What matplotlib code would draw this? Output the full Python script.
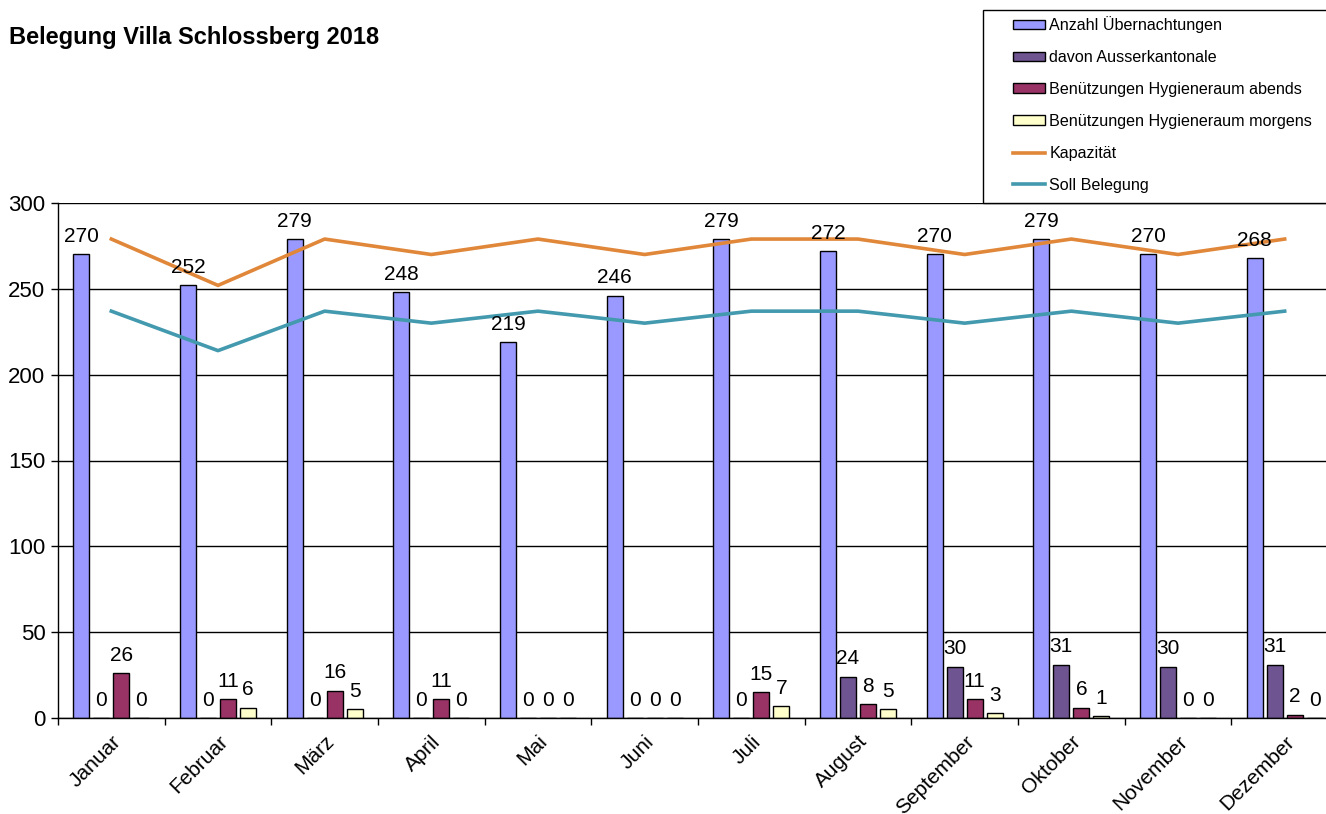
import numpy as np
import matplotlib
matplotlib.use("Agg")
from matplotlib import pyplot as plt
from matplotlib.patches import Rectangle

plt.rcParams['font.family'] = ['Liberation Sans', 'DejaVu Sans']

# Data
months = ["Januar", "Februar", "März", "April", "Mai", "Juni",
          "Juli", "August", "September", "Oktober", "November", "Dezember"]
uebernachtungen = [270, 252, 279, 248, 219, 246, 279, 272, 270, 279, 270, 268]
ausserkantonale = [0, 0, 0, 0, 0, 0, 0, 24, 30, 31, 30, 31]
hyg_abends = [26, 11, 16, 11, 0, 0, 15, 8, 11, 6, 0, 2]
hyg_morgens = [0, 6, 5, 0, 0, 0, 7, 5, 3, 1, 0, 0]
kapazitaet = [279, 252, 279, 270, 279, 270, 279, 279, 270, 279, 270, 279]
soll_belegung = [237, 214, 237, 230, 237, 230, 237, 237, 230, 237, 230, 237]

bar_series = [
    ("Anzahl Übernachtungen", uebernachtungen, "#9999FF"),
    ("davon Ausserkantonale", ausserkantonale, "#6E5490"),
    ("Benützungen Hygieneraum abends", hyg_abends, "#993366"),
    ("Benützungen Hygieneraum morgens", hyg_morgens, "#FFFFCC"),
]

W, H = 1326, 814
fig = plt.figure(figsize=(W / 100, H / 100), dpi=100)
# axes extends past the right edge, like the cropped original
ax = fig.add_axes([58 / W, (H - 718) / H, 1280 / W, (718 - 203) / H])

x = np.arange(len(months))
step = 0.1875
width = 0.15
handles = []
for i, (name, vals, col) in enumerate(bar_series):
    pos = x + (i - 1.5) * step
    bars = ax.bar(pos, vals, width, color=col, edgecolor="black",
                  linewidth=1.0, label=name, zorder=2)
    handles.append(bars)
    for xp, v in zip(pos, vals):
        ax.annotate(str(v), (xp, v), xytext=(0, 6), textcoords="offset points",
                    ha="center", va="bottom", fontsize=15, zorder=4)

l1, = ax.plot(x, kapazitaet, color="#E0873A", lw=2.6, label="Kapazität", zorder=3)
l2, = ax.plot(x, soll_belegung, color="#4399AE", lw=2.6, label="Soll Belegung", zorder=3)
handles += [l1, l2]

ax.set_xlim(-0.5, len(months) - 0.5)
ax.set_ylim(0, 300)
ax.set_yticks(range(0, 301, 50))
ax.yaxis.grid(True, color="black", lw=1.0)
ax.set_axisbelow(True)
ax.tick_params(axis="y", labelsize=16, length=5, direction="out", width=1, pad=4)

ax.set_xticks(x)
ax.set_xticklabels(months, rotation=45, ha="right", rotation_mode="anchor", fontsize=15)
ax.tick_params(axis="x", which="major", length=0, pad=10)
ax.set_xticks(np.arange(-0.5, len(months), 1), minor=True)
ax.tick_params(axis="x", which="minor", length=5, width=1, direction="out")

for s in ["top", "right"]:
    ax.spines[s].set_visible(False)
ax.spines["left"].set_linewidth(1.0)
ax.spines["bottom"].set_linewidth(1.0)

fig.text(9 / W, 1 - 44 / H, "Belegung Villa Schlossberg 2018", fontsize=17,
         fontweight="bold", va="baseline")

# legend frame runs off the right edge as in the original
fig.patches.append(Rectangle((983 / W, (H - 203) / H), 400 / W, 193 / H,
                             transform=fig.transFigure, facecolor="white",
                             edgecolor="black", lw=1.0, zorder=5))
leg = fig.legend(handles=handles, loc="upper left",
                 bbox_to_anchor=(1010 / W, 1 - 13 / H),
                 fontsize=11.6, frameon=False,
                 handlelength=1.95, handleheight=0.55, handletextpad=0.3,
                 labelspacing=1.05, borderpad=0.2, borderaxespad=0)
leg.set_zorder(6)

fig.savefig("out.png", dpi=100)
